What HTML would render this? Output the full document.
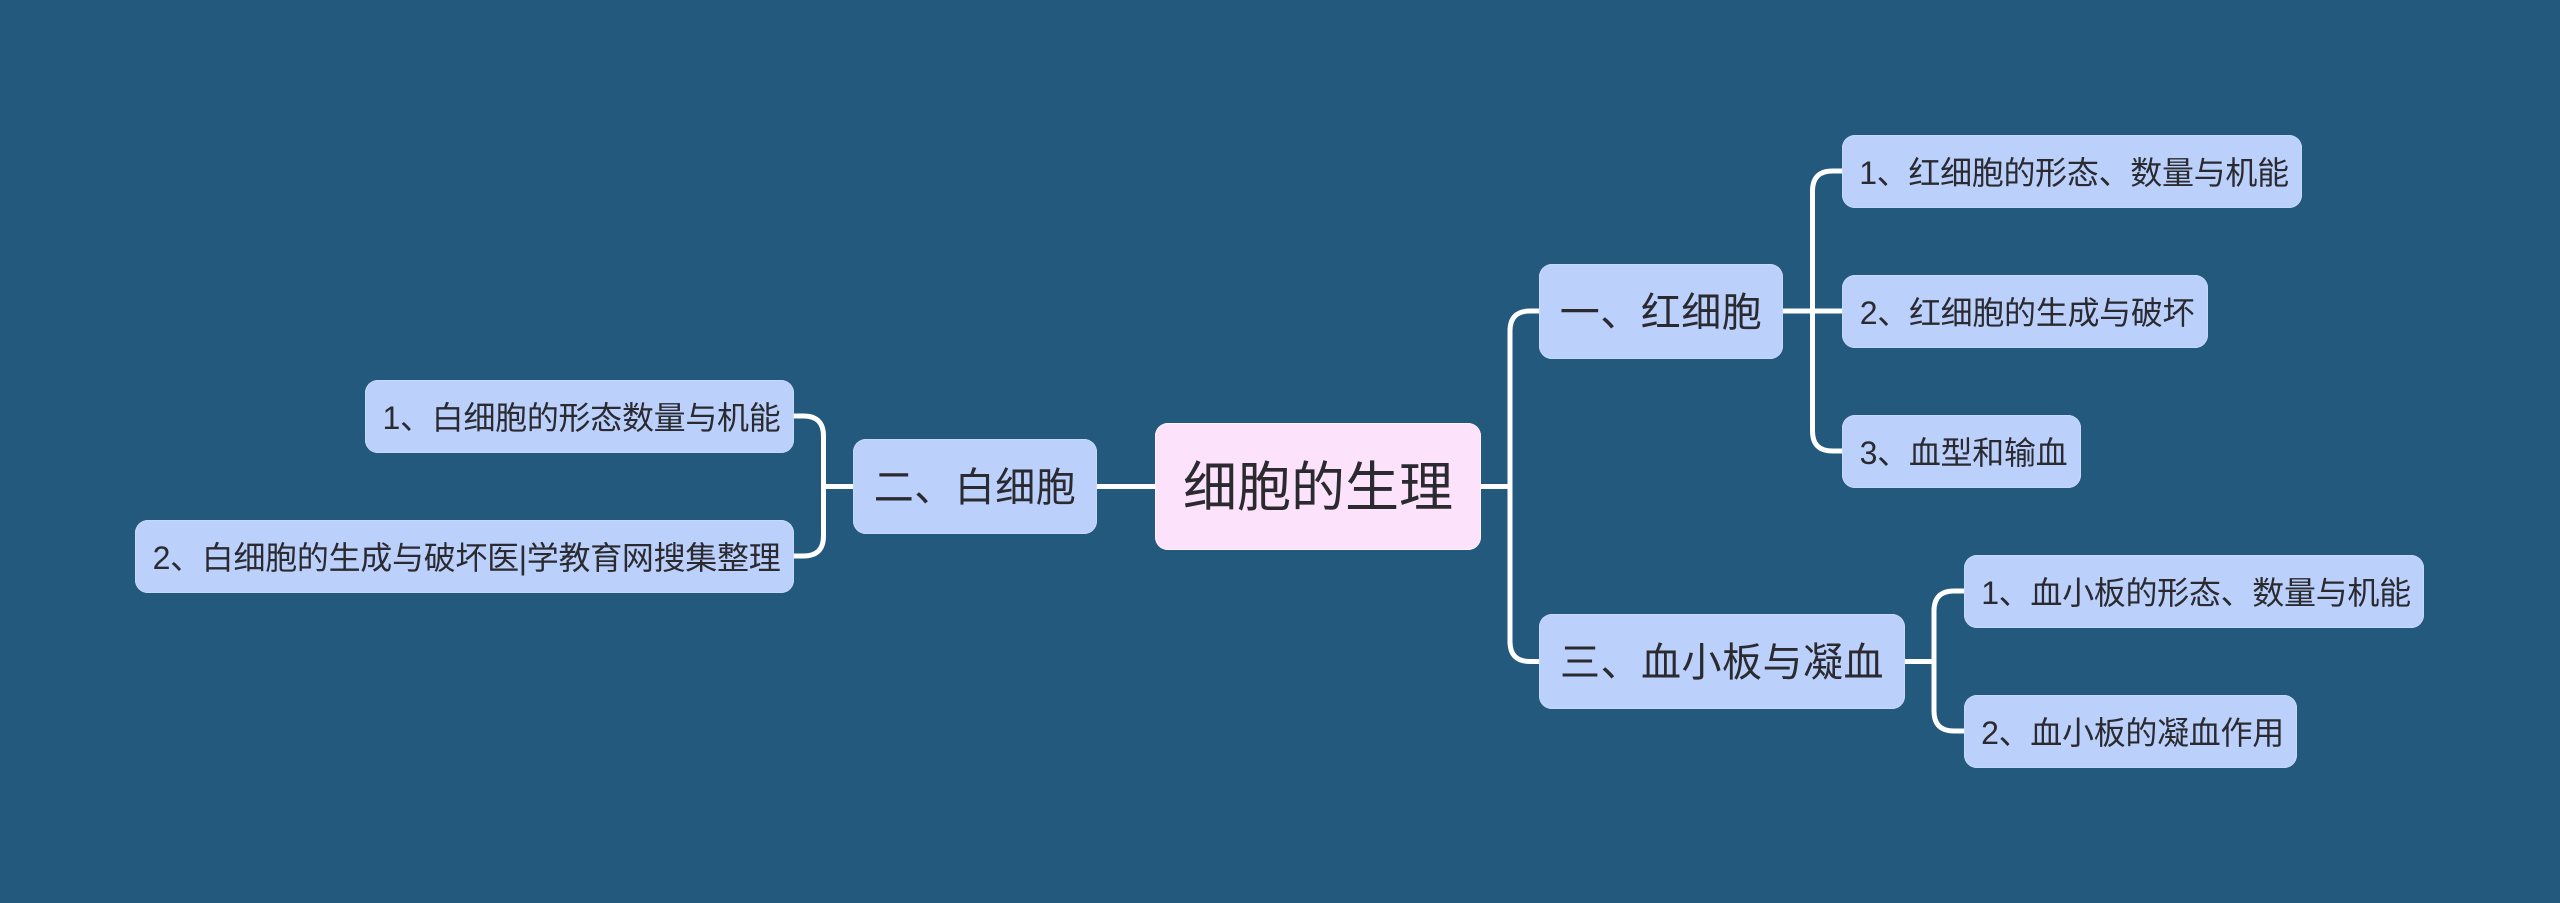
<!DOCTYPE html>
<html lang="zh">
<head>
<meta charset="utf-8">
<title>细胞的生理</title>
<style>
html,body{margin:0;padding:0;width:2560px;height:903px;overflow:hidden;background:#23597c;}
#wrap{position:relative;width:2560px;height:903px;background:#23597c;font-family:"Liberation Sans","Noto Sans CJK SC",sans-serif;color:#2a2a30;}
svg{position:absolute;left:0;top:0;}
.n{position:absolute;box-sizing:border-box;background:#bbd0fb;border-radius:13px;white-space:nowrap;text-align:center;font-size:32px;letter-spacing:-0.3px;padding-left:4px;line-height:77px;box-shadow:inset 0 0 0 1px #c6d9fc;}
.b{font-size:40px;letter-spacing:0.5px;padding-left:0;line-height:99px;}
.r{background:#fde2fc;font-size:54px;letter-spacing:0;padding-left:0;line-height:131px;box-shadow:inset 0 0 0 1px #fff0fd;}
</style>
</head>
<body>
<div id="wrap">
<svg width="2560" height="903" viewBox="0 0 2560 903" fill="none" stroke="#ffffff" stroke-width="5">
<path d="M1481 486.5H1510"/>
<path d="M1539 311H1530Q1510 311 1510 331V641.500Q1510 661.500 1530 661.500H1539"/>
<path d="M1783 311H1842"/>
<path d="M1842 171H1832.500Q1812.500 171 1812.500 191V431Q1812.500 451 1832.500 451H1842"/>
<path d="M1905 661.500H1934"/>
<path d="M1964 591H1954Q1934 591 1934 611V711Q1934 731 1954 731H1964"/>
<path d="M1155 486.500H1097"/>
<path d="M853 486.500H823.500"/>
<path d="M794 416H803.500Q823.500 416 823.500 436V536Q823.500 556 803.500 556H794"/>
</svg>
<div class="n r" style="left:1155px;top:423px;width:326px;height:127px;">细胞的生理</div>
<div class="n b" style="left:1539px;top:264px;width:244px;height:95px;">一、红细胞</div>
<div class="n b" style="left:853px;top:439px;width:244px;height:95px;">二、白细胞</div>
<div class="n b" style="left:1539px;top:614px;width:366px;height:95px;">三、血小板与凝血</div>
<div class="n" style="left:1842px;top:135px;width:460px;height:73px;">1、红细胞的形态、数量与机能</div>
<div class="n" style="left:1842px;top:275px;width:366px;height:73px;">2、红细胞的生成与破坏</div>
<div class="n" style="left:1842px;top:415px;width:239px;height:73px;">3、血型和输血</div>
<div class="n" style="left:1964px;top:555px;width:460px;height:73px;">1、血小板的形态、数量与机能</div>
<div class="n" style="left:1964px;top:695px;width:333px;height:73px;">2、血小板的凝血作用</div>
<div class="n" style="left:365px;top:380px;width:429px;height:73px;">1、白细胞的形态数量与机能</div>
<div class="n" style="left:135px;top:520px;width:659px;height:73px;">2、白细胞的生成与破坏医|学教育网搜集整理</div>
</div>
</body>
</html>
